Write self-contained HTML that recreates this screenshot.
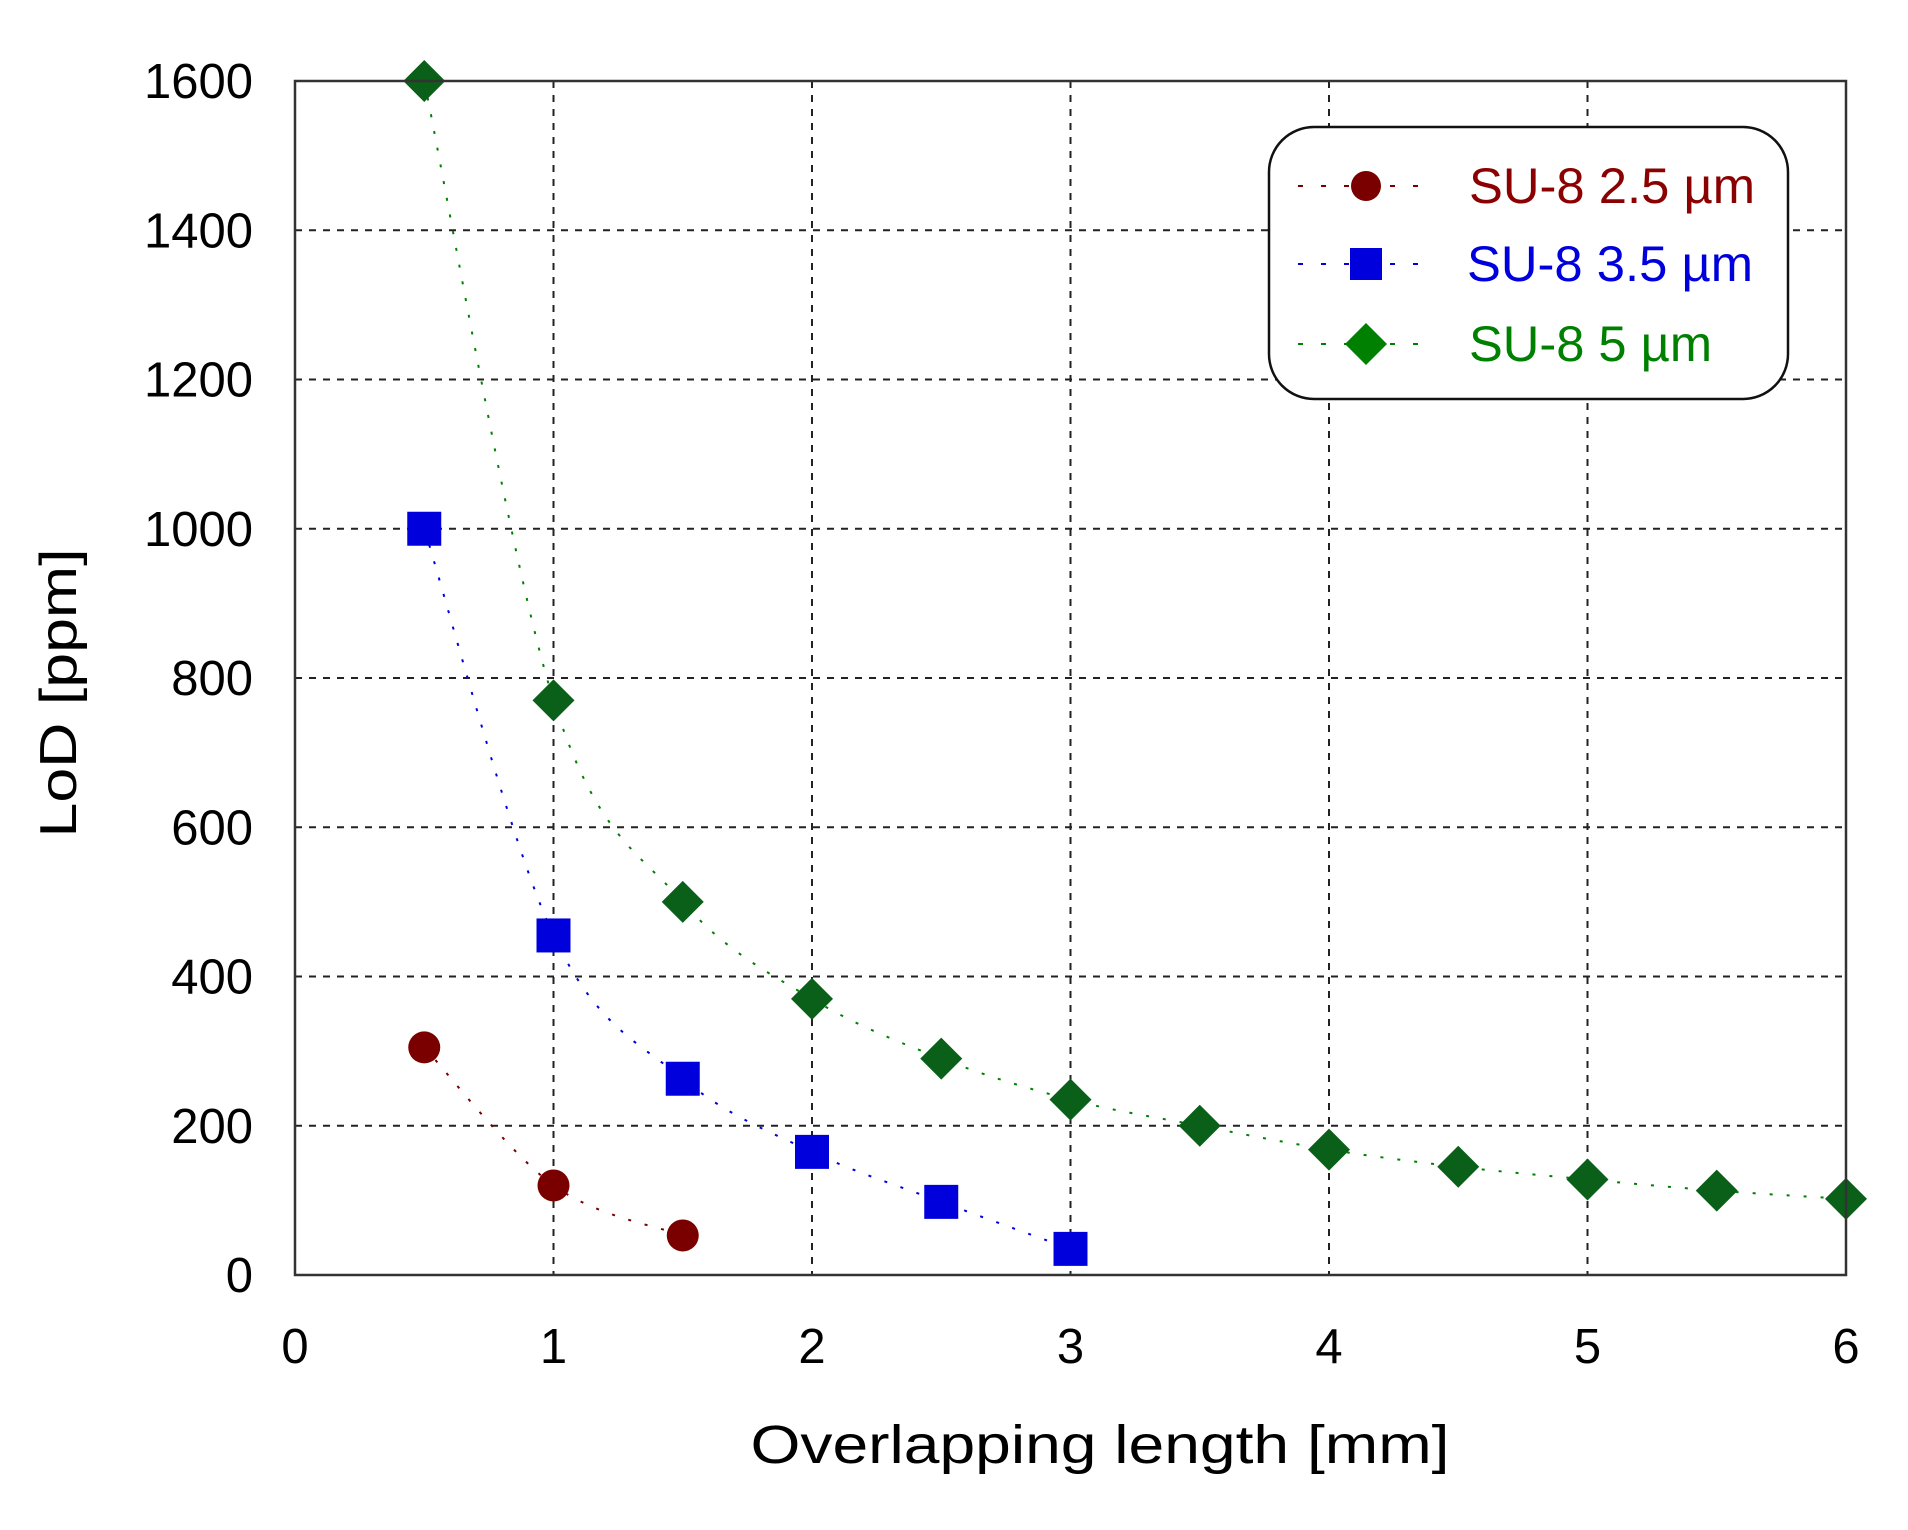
<!DOCTYPE html>
<html><head><meta charset="utf-8"><style>
html,body{margin:0;padding:0;background:#fff;}
svg{display:block;}
</style></head><body>
<svg id="s" width="1908" height="1530" xmlns="http://www.w3.org/2000/svg">
<rect width="1908" height="1530" fill="#fff"/>
<g id="grid"></g>
<g id="series"></g>
<rect x="295" y="81" width="1551" height="1194" fill="none" stroke="#333" stroke-width="2.5"/>
<g id="labels" font-family="Liberation Sans, sans-serif" font-size="49" fill="#000"></g>
<text x="1100" y="1463" font-family="Liberation Sans, sans-serif" font-size="54" text-anchor="middle" textLength="699" lengthAdjust="spacingAndGlyphs">Overlapping length [mm]</text>
<text transform="translate(76,693) rotate(-90)" font-family="Liberation Sans, sans-serif" font-size="52" text-anchor="middle" textLength="289" lengthAdjust="spacingAndGlyphs">LoD [ppm]</text>
<g id="legend" transform="translate(-7,0)">
<rect x="1276" y="127" width="519" height="272" rx="45" ry="45" fill="#fff" stroke="#111" stroke-width="2.5"/>
<line x1="1305" y1="186" x2="1440" y2="186" stroke="#7a0000" stroke-width="2" stroke-dasharray="5,18"/>
<circle cx="1373" cy="186" r="15" fill="#7a0000"/>
<text x="1476" y="203" font-family="Liberation Sans, sans-serif" font-size="50" fill="#8b0000" textLength="286" lengthAdjust="spacingAndGlyphs">SU-8 2.5 µm</text>
<line x1="1305" y1="264" x2="1440" y2="264" stroke="#0000dd" stroke-width="2" stroke-dasharray="5,18"/>
<rect x="1357" y="248" width="32" height="32" fill="#0000dd"/>
<text x="1474" y="281" font-family="Liberation Sans, sans-serif" font-size="50" fill="#0000dd" textLength="286" lengthAdjust="spacingAndGlyphs">SU-8 3.5 µm</text>
<line x1="1305" y1="344" x2="1440" y2="344" stroke="#008000" stroke-width="2" stroke-dasharray="5,18"/>
<polygon points="1373,323 1394,344 1373,365 1352,344" fill="#008000"/>
<text x="1476" y="361" font-family="Liberation Sans, sans-serif" font-size="50" fill="#008000" textLength="243" lengthAdjust="spacingAndGlyphs">SU-8 5 µm</text>
</g>
</svg>
<script>
var NS="http://www.w3.org/2000/svg";
function X(v){return 295+v*258.5;}
function Y(v){return 1275-v*0.74625;}
function el(t,a,p){var e=document.createElementNS(NS,t);for(var k in a)e.setAttribute(k,a[k]);p.appendChild(e);return e;}
var g=document.getElementById('grid'),L=document.getElementById('labels'),S=document.getElementById('series');
for(var i=1;i<6;i++){el('line',{x1:X(i),y1:81,x2:X(i),y2:1275,stroke:'#222','stroke-width':2,'stroke-dasharray':'7,7'},g);}
for(var j=1;j<8;j++){el('line',{x1:295,y1:Y(j*200),x2:1846,y2:Y(j*200),stroke:'#222','stroke-width':2,'stroke-dasharray':'7,7'},g);}
for(var i=0;i<=6;i++){var t=el('text',{x:X(i),y:1363,'text-anchor':'middle'},L);t.textContent=i;}
for(var j=0;j<=8;j++){var t=el('text',{x:253,y:Y(j*200)+17,'text-anchor':'end'},L);t.textContent=j*200;}
function curve(pts){var d='M'+X(pts[0][0])+','+Y(pts[0][1]);
 var P=pts.map(function(p){return [X(p[0]),Y(p[1])];});
 for(var i=0;i<P.length-1;i++){var p0=P[i-1]||P[i],p1=P[i],p2=P[i+1],p3=P[i+2]||P[i+1];
  d+=' C'+(p1[0]+(p2[0]-p0[0])/6)+','+(p1[1]+(p2[1]-p0[1])/6)+' '+(p2[0]-(p3[0]-p1[0])/6)+','+(p2[1]-(p3[1]-p1[1])/6)+' '+p2[0]+','+p2[1];}
 return d;}
var green=[[0.5,1600],[1,770],[1.5,500],[2,370],[2.5,290],[3,235],[3.5,200],[4,168],[4.5,145],[5,128],[5.5,113],[6,102]];
var blue=[[0.5,1000],[1,455],[1.5,263],[2,165],[2.5,98],[3,35]];
var red=[[0.5,305],[1,120],[1.5,53]];
el('path',{d:curve(green),fill:'none',stroke:'#008000','stroke-width':2,'stroke-dasharray':'3,14'},S);
el('path',{d:curve(blue),fill:'none',stroke:'#0000dd','stroke-width':2,'stroke-dasharray':'3,14'},S);
el('path',{d:curve(red),fill:'none',stroke:'#7a0000','stroke-width':2,'stroke-dasharray':'3,14'},S);
red.forEach(function(p){el('circle',{cx:X(p[0]),cy:Y(p[1]),r:16,fill:'#7a0000'},S);});
blue.forEach(function(p){el('rect',{x:X(p[0])-17,y:Y(p[1])-17,width:34,height:34,fill:'#0000dd'},S);});
green.forEach(function(p){var x=X(p[0]),y=Y(p[1]);el('polygon',{points:x+','+(y-21)+' '+(x+21)+','+y+' '+x+','+(y+21)+' '+(x-21)+','+y,fill:'#0a6018'},S);});
</script>
</body></html>
